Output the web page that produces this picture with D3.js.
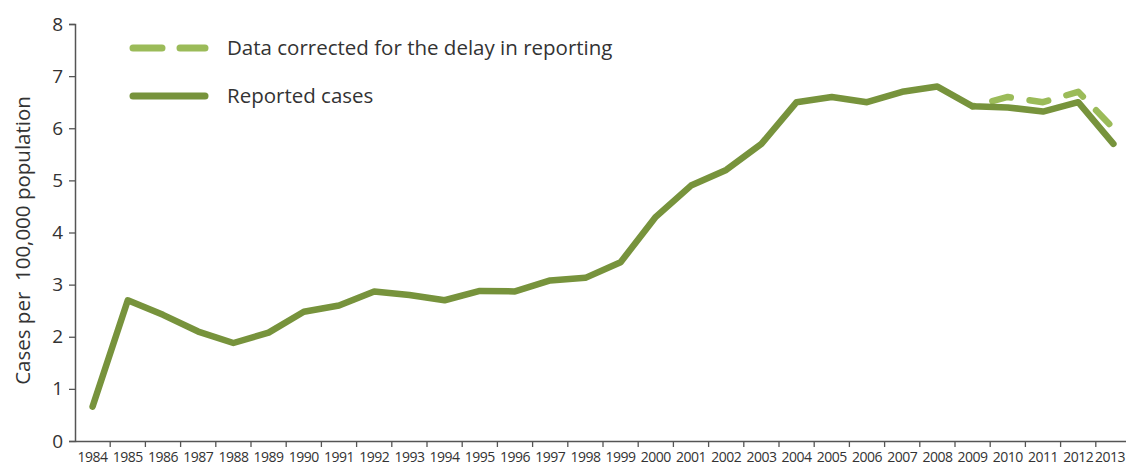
<!DOCTYPE html>
<html><head><meta charset="utf-8">
<script src="https://cdn.jsdelivr.net/npm/d3@7"></script>
<style>body{margin:0;background:#fff}svg{display:block}</style>
</head><body>
<svg id="c" width="1126" height="466"></svg>
<script>
const years = ["1984","1985","1986","1987","1988","1989","1990","1991","1992","1993","1994","1995","1996","1997","1998","1999","2000","2001","2002","2003","2004","2005","2006","2007","2008","2009","2010","2011","2012","2013"];
const reported = [0.66,2.7,2.42,2.1,1.88,2.08,2.48,2.6,2.87,2.8,2.7,2.88,2.87,3.08,3.13,3.43,4.3,4.9,5.2,5.7,6.5,6.6,6.5,6.7,6.8,6.42,6.4,6.32,6.5,5.7];
const correctedYears = ["2009","2010","2011","2012","2013"];
const corrected = [6.42,6.6,6.5,6.7,6.0];
const yTicks = [0,1,2,3,4,5,6,7,8];
const legendLabels = ["Data corrected for the delay in reporting","Reported cases"];
const yTitle = "Cases per  100,000 population";

const svg = d3.select("#c");
const font = "'Open Sans', 'Liberation Sans', sans-serif";
const mLeft = 75, mRight = 1131, mTop = 24, mBottom = 441;
const x = d3.scaleBand().domain(years).range([mLeft, mRight]).padding(0);
const y = d3.scaleLinear().domain([0, 8]).range([mBottom, mTop]);
const cx = d => x(d) + x.bandwidth()/2;

// y axis
const ya = svg.append("g").attr("transform", `translate(${mLeft},0)`)
  .call(d3.axisLeft(y).tickValues(yTicks).tickSize(6).tickPadding(6).tickFormat(d3.format("d")));
ya.select(".domain").attr("stroke", "#555").attr("stroke-width", 1.5);
ya.selectAll(".tick line").attr("stroke", "#555").attr("stroke-width", 1.3);
ya.selectAll("text").attr("font-family", font).attr("font-size", 19).attr("fill", "#333");

// x axis
const xa = svg.append("g").attr("transform", `translate(0,${mBottom})`)
  .call(d3.axisBottom(x).tickSize(0).tickPadding(11));
xa.select(".domain").attr("stroke", "#555").attr("stroke-width", 1.5);
xa.selectAll("text").attr("font-family", font).attr("font-size", 14).attr("fill", "#333").attr("letter-spacing", "-0.5");
// keep the last label inside the picture
xa.selectAll(".tick").filter(d => d === years[years.length - 1]).select("text")
  .attr("text-anchor", "end").attr("x", 1125 - cx(years[years.length - 1]));
// boundary ticks
svg.append("g").selectAll("line").data(years.slice(1)).join("line")
  .attr("x1", d => x(d)).attr("x2", d => x(d))
  .attr("y1", mBottom).attr("y2", mBottom + 6)
  .attr("stroke", "#555").attr("stroke-width", 1.3);

// y title
svg.append("text")
  .attr("transform", `translate(30,${(mTop+mBottom)/2 + 8}) rotate(-90)`)
  .attr("text-anchor", "middle")
  .attr("font-family", font).attr("font-size", 20.5).attr("fill", "#333")
  .style("white-space", "pre")
  .text(yTitle);

const line = d3.line().x(d => cx(d[0])).y(d => y(d[1]));

// corrected (dashed)
const dp = svg.append("path")
  .datum(correctedYears.map((d,i) => [d, corrected[i]]))
  .attr("d", line).attr("fill", "none")
  .attr("stroke", "#9BBB59").attr("stroke-width", 6.5)
  .attr("stroke-linecap", "round").attr("stroke-linejoin", "round")
  .attr("stroke-dasharray", "19,19");
const L = dp.node().getTotalLength();
dp.attr("stroke-dashoffset", 19 - (L % 38) + 6);

// reported (solid)
svg.append("path")
  .datum(years.map((d,i) => [d, reported[i]]))
  .attr("d", line).attr("fill", "none")
  .attr("stroke", "#77933C").attr("stroke-width", 6.5)
  .attr("stroke-linecap", "round").attr("stroke-linejoin", "round");

// legend
const lg = svg.append("g");
lg.append("line").attr("x1", 133).attr("x2", 205).attr("y1", 48).attr("y2", 48)
  .attr("stroke", "#9BBB59").attr("stroke-width", 7).attr("stroke-linecap", "round")
  .attr("stroke-dasharray", "29,18");
lg.append("line").attr("x1", 133).attr("x2", 205).attr("y1", 96).attr("y2", 96)
  .attr("stroke", "#77933C").attr("stroke-width", 7).attr("stroke-linecap", "round");
lg.selectAll("text").data(legendLabels).join("text")
  .attr("x", 227).attr("y", (d,i) => 48 + i*48 + 7)
  .attr("font-family", font).attr("font-size", 20.5).attr("fill", "#333")
  .text(d => d);
</script>
</body></html>
